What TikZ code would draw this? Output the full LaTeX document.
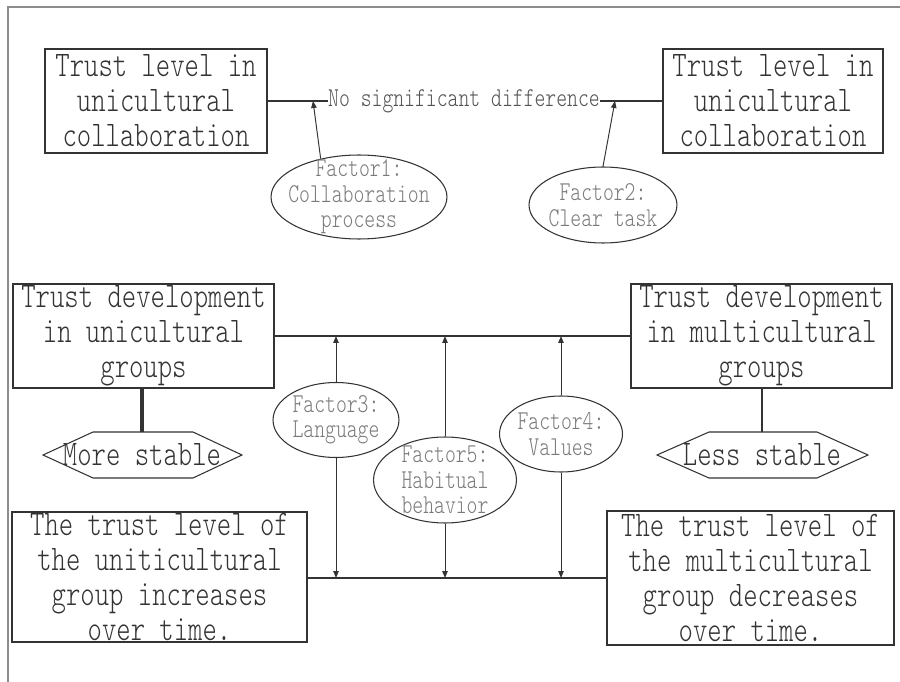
\documentclass[tikz,border=0pt]{standalone}
\usepackage{fontspec}
\newfontfamily\figfont[FakeStretch=0.76]{lmmonolt10-regular.otf}
\usetikzlibrary{arrows.meta,shapes.geometric}
\definecolor{ink}{HTML}{333333}
\definecolor{boxtxt}{HTML}{333333}
\definecolor{ovaltxt}{HTML}{7A7A7A}
\definecolor{framec}{HTML}{8C8C8C}
\newcommand{\bigtxt}{\figfont\fontsize{20.5}{19.9}\selectfont}
\newcommand{\smalltxt}{\figfont\fontsize{15.5}{14.5}\selectfont}
\tikzset{
  bx/.style={draw=ink, line width=0.7pt, align=center, inner xsep=0pt, inner ysep=-5pt, text=boxtxt, font=\bigtxt},
  oval/.style={draw=ink, ellipse, line width=0.6pt, align=center, inner sep=-6pt, text=ovaltxt, font=\smalltxt},
  hexa/.style={align=center, inner sep=0pt, minimum height=0.92cm, text=boxtxt, font=\bigtxt},
  hexline/.style={draw=ink, line width=0.6pt},
  lnk/.style={line width=1.1pt, ink},
  heavy/.style={line width=2.3pt, ink},
  arr/.style={-{Triangle[length=1.4mm,width=1.1mm]}, line width=0.55pt, ink},
}

\begin{document}
\begin{tikzpicture}[x=0.02cm,y=-0.02cm]
  \useasboundingbox (0,0) rectangle (900,682);
  \draw[framec, line width=1pt] (900,7) -- (8,7) -- (8,682);
  % top row
  \node[bx, minimum width=4.44cm, minimum height=2.08cm] (A) at (156,101) {Trust level in\\unicultural\\collaboration};
  \node[bx, minimum width=4.4cm, minimum height=2.08cm] (B) at (773,101) {Trust level in\\unicultural\\collaboration};
  \node[inner sep=0pt, text=ink!85, font=\smalltxt] (nsd) at (464,101) {No significant difference};
  \draw[lnk] (A.east) -- (nsd.west);
  \draw[lnk] (nsd.east) -- (B.west);
  \node[oval, minimum width=3.52cm, minimum height=1.68cm] (f1) at (359,197) {Factor1:\\Collaboration\\process};
  \node[oval, minimum width=2.96cm, minimum height=1.52cm] (f2) at (603,205) {Factor2:\\Clear task};
  \coordinate (j1) at (313,101);
  \coordinate (j2) at (615,101);
  \draw[arr] (f1.135) -- (j1);
  \draw[arr] (f2.north) -- (j2);
  % middle row
  \node[bx, minimum width=5.22cm, minimum height=2.08cm] (C) at (143.5,336) {Trust development\\in unicultural\\groups};
  \node[bx, minimum width=5.22cm, minimum height=2.08cm] (D) at (761.5,336) {Trust development\\in multicultural\\groups};
  \draw[lnk] (C.east) -- (D.west);
  \node[hexa] (ms) at (142,455) {More stable};
  \draw[hexline] (43,455) -- (93,432) -- (193,432) -- (242,455) -- (193,478) -- (93,478) -- cycle;
  \node[hexa] (ls) at (762,455) {Less stable};
  \draw[hexline] (657,455) -- (709,432) -- (817,432) -- (868,455) -- (817,478) -- (709,478) -- cycle;
  \draw[heavy] (ms.north |- C.south) -- (ms.north);
  \draw[ink, line width=0.6pt] (ls.north |- D.south) -- (ls.north);
  % bottom row
  \node[bx, minimum width=5.9cm, minimum height=2.6cm] (E) at (159.5,577) {The trust level of\\the uniticultural\\group increases\\over time.};
  \node[bx, minimum width=5.74cm, minimum height=2.68cm] (F) at (750.5,578) {The trust level of\\the multicultural\\group decreases\\over time.};
  \draw[line width=1.7pt, ink] (E.east |- 0,578) coordinate (bl) -- (F.west |- bl) coordinate (br);
  % factors between the rows
  \node[oval, minimum width=2.52cm, minimum height=1.5cm] (f3) at (336,420) {Factor3:\\Language};
  \node[oval, minimum width=2.86cm, minimum height=1.72cm] (f5) at (445,480) {Factor5:\\Habitual\\behavior};
  \node[oval, minimum width=2.46cm, minimum height=1.52cm] (f4) at (561,434) {Factor4:\\Values};
  \foreach \f in {f3,f5,f4}{
    \draw[arr] (\f.north) -- (\f.north |- C.east);
    \draw[arr] (\f.south) -- (\f.south |- bl);
  }
\end{tikzpicture}
\end{document}
